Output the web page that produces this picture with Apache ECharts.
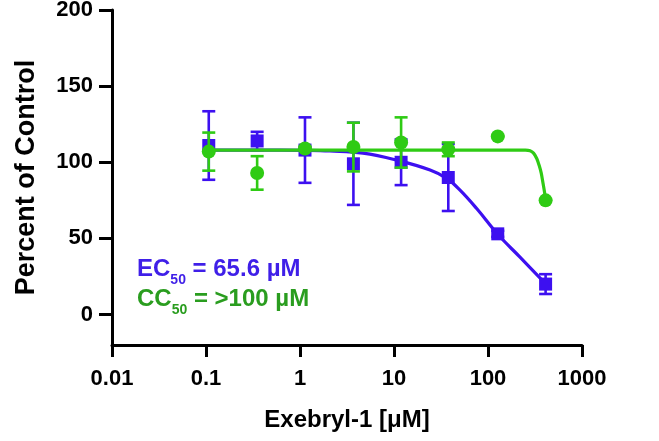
<!DOCTYPE html>
<html>
<head>
<meta charset="utf-8">
<script src="https://cdn.jsdelivr.net/npm/echarts@6/dist/echarts.min.js"></script>
<style>html,body{margin:0;padding:0;background:#fff}#c{width:659px;height:441px}</style>
</head>
<body>
<div id="c"></div>
<script>
// concentrations (µM)
var conc = [0.107, 0.35, 1.13, 3.7, 11.9, 37.8, 127, 410];
// EC (blue squares)
var blueMean = [111, 114, 108, 99, 100, 90, 53, 20];
var blueSD   = [22.5, 6, 21.5, 27, 15, 22, 2, 6.5];
// CC (green circles)
var greenMean = [107, 93, 109, 110, 113, 108.5, 117, 75];
var greenSD   = [12.5, 11, 1, 16, 16.5, 4.5, 0, 0];
// fitted curves
var blueCurveX = [0.107, 0.35, 1.13, 2.08, 4.68, 10.7, 24.2, 36.4, 50.4, 75.8, 127, 219, 411];
var blueCurveY = [108, 108, 107.8, 107.4, 106, 101.4, 94.9, 89.4, 81.7, 69.6, 52.7, 37.7, 20.2];
var greenCurveX = [0.107, 1.13, 11.9, 127, 250, 280, 305, 330, 350, 368, 383, 398, 411];
var greenCurveY = [108, 108, 108, 108, 108, 107.6, 106, 102.5, 98, 93, 87, 81, 75];
// axes
var xTickValues = [0.01, 0.1, 1, 10, 100, 1000];
var xTickLabels = ['0.01', '0.1', '1', '10', '100', '1000'];
var yTickValues = [0, 50, 100, 150, 200];
var yTickLabels = ['0', '50', '100', '150', '200'];

var BLUE = '#3D10F0';
var GREEN = '#2FCB14';
var FONT = 'Liberation Sans, Arial, sans-serif';

function pairs(xs, ys) { return xs.map(function (x, i) { return [x, ys[i]]; }); }
function errData(m, sd) { return conc.map(function (x, i) { return [x, m[i] - sd[i], m[i] + sd[i]]; }); }
function errRender(color) {
  return function (params, api) {
    var x = api.value(0), lo = api.value(1), hi = api.value(2);
    var p1 = api.coord([x, lo]), p2 = api.coord([x, hi]);
    var w = 6.5;
    var st = { stroke: color, lineWidth: 2.6 };
    return { type: 'group', children: [
      { type: 'line', shape: { x1: p1[0], y1: p1[1], x2: p2[0], y2: p2[1] }, style: st },
      { type: 'line', shape: { x1: p1[0] - w, y1: p1[1], x2: p1[0] + w, y2: p1[1] }, style: st },
      { type: 'line', shape: { x1: p2[0] - w, y1: p2[1], x2: p2[0] + w, y2: p2[1] }, style: st }
    ]};
  };
}

var chart = echarts.init(document.getElementById('c'), null, { renderer: 'canvas' });
chart.setOption({
  animation: false,
  backgroundColor: '#fff',
  grid: { left: 112, right: 77, top: 10, bottom: 96, containLabel: false, outerBoundsMode: 'none' },
  xAxis: {
    type: 'log', logBase: 10, min: 0.01, max: 1000,
    name: 'Exebryl-1 [\u03bcM]', nameLocation: 'middle', nameGap: 63,
    nameTextStyle: { fontFamily: FONT, fontWeight: 'bold', fontSize: 24, color: '#000' },
    axisLine: { show: true, onZero: false, lineStyle: { color: '#000', width: 3 } },
    axisTick: { show: true, inside: false, length: 12, lineStyle: { color: '#000', width: 3 } },
    axisLabel: { margin: 23, fontFamily: FONT, fontWeight: 'bold', fontSize: 22, color: '#000',
      formatter: function (v) {
        for (var i = 0; i < xTickValues.length; i++) {
          if (Math.abs(Math.log10(v) - Math.log10(xTickValues[i])) < 1e-6) return xTickLabels[i];
        }
        return '';
      } },
    splitLine: { show: false }, minorTick: { show: false }
  },
  yAxis: {
    type: 'value', min: -20, max: 200,
    name: 'Percent of Control', nameLocation: 'middle', nameGap: 72, nameRotate: 90,
    nameTextStyle: { fontFamily: FONT, fontWeight: 'bold', fontSize: 27, color: '#000' },
    axisLine: { show: true, onZero: false, lineStyle: { color: '#000', width: 3 } },
    axisTick: { show: true, inside: false, length: 13, customValues: yTickValues, lineStyle: { color: '#000', width: 3 } },
    axisLabel: { margin: 19, fontFamily: FONT, fontWeight: 'bold', fontSize: 22, color: '#000',
      customValues: yTickValues,
      formatter: function (v) { var i = yTickValues.indexOf(v); return i >= 0 ? yTickLabels[i] : ''; } },
    splitLine: { show: false }
  },
  series: [
    { type: 'custom', name: 'blueErr', data: errData(blueMean, blueSD), renderItem: errRender(BLUE), z: 2 },
    { type: 'line', name: 'blueFit', data: pairs(blueCurveX, blueCurveY), smooth: 0.4, showSymbol: false,
      lineStyle: { color: BLUE, width: 3.2 }, z: 3 },
    { type: 'scatter', name: 'EC', data: pairs(conc, blueMean), symbol: 'rect', symbolSize: 13,
      itemStyle: { color: BLUE, opacity: 1 }, z: 4 },
    { type: 'custom', name: 'greenErr', data: errData(greenMean, greenSD), renderItem: errRender(GREEN), z: 5 },
    { type: 'line', name: 'greenFit', data: pairs(greenCurveX, greenCurveY), smooth: 0.3, showSymbol: false,
      lineStyle: { color: GREEN, width: 3.2 }, z: 6 },
    { type: 'scatter', name: 'CC', data: pairs(conc, greenMean), symbol: 'circle', symbolSize: 14,
      itemStyle: { color: GREEN, opacity: 1 }, z: 7 }
  ],
  graphic: [
    { type: 'text', left: 137, top: 257, z: 100,
      style: { text: '{m|EC}{s|50}{m| = 65.6 \u00b5M}', rich: {
        m: { fontFamily: FONT, fontWeight: 'bold', fontSize: 24, lineHeight: 36, fill: '#3F1FE8' },
        s: { fontFamily: FONT, fontWeight: 'bold', fontSize: 14, lineHeight: 14, verticalAlign: 'bottom', fill: '#3F1FE8' } } } },
    { type: 'text', left: 137, top: 287, z: 100,
      style: { text: '{m|CC}{s|50}{m| = >100 \u00b5M}', rich: {
        m: { fontFamily: FONT, fontWeight: 'bold', fontSize: 24, lineHeight: 36, fill: '#2A9D1F' },
        s: { fontFamily: FONT, fontWeight: 'bold', fontSize: 14, lineHeight: 14, verticalAlign: 'bottom', fill: '#2A9D1F' } } } }
  ]
});
</script>
</body>
</html>
